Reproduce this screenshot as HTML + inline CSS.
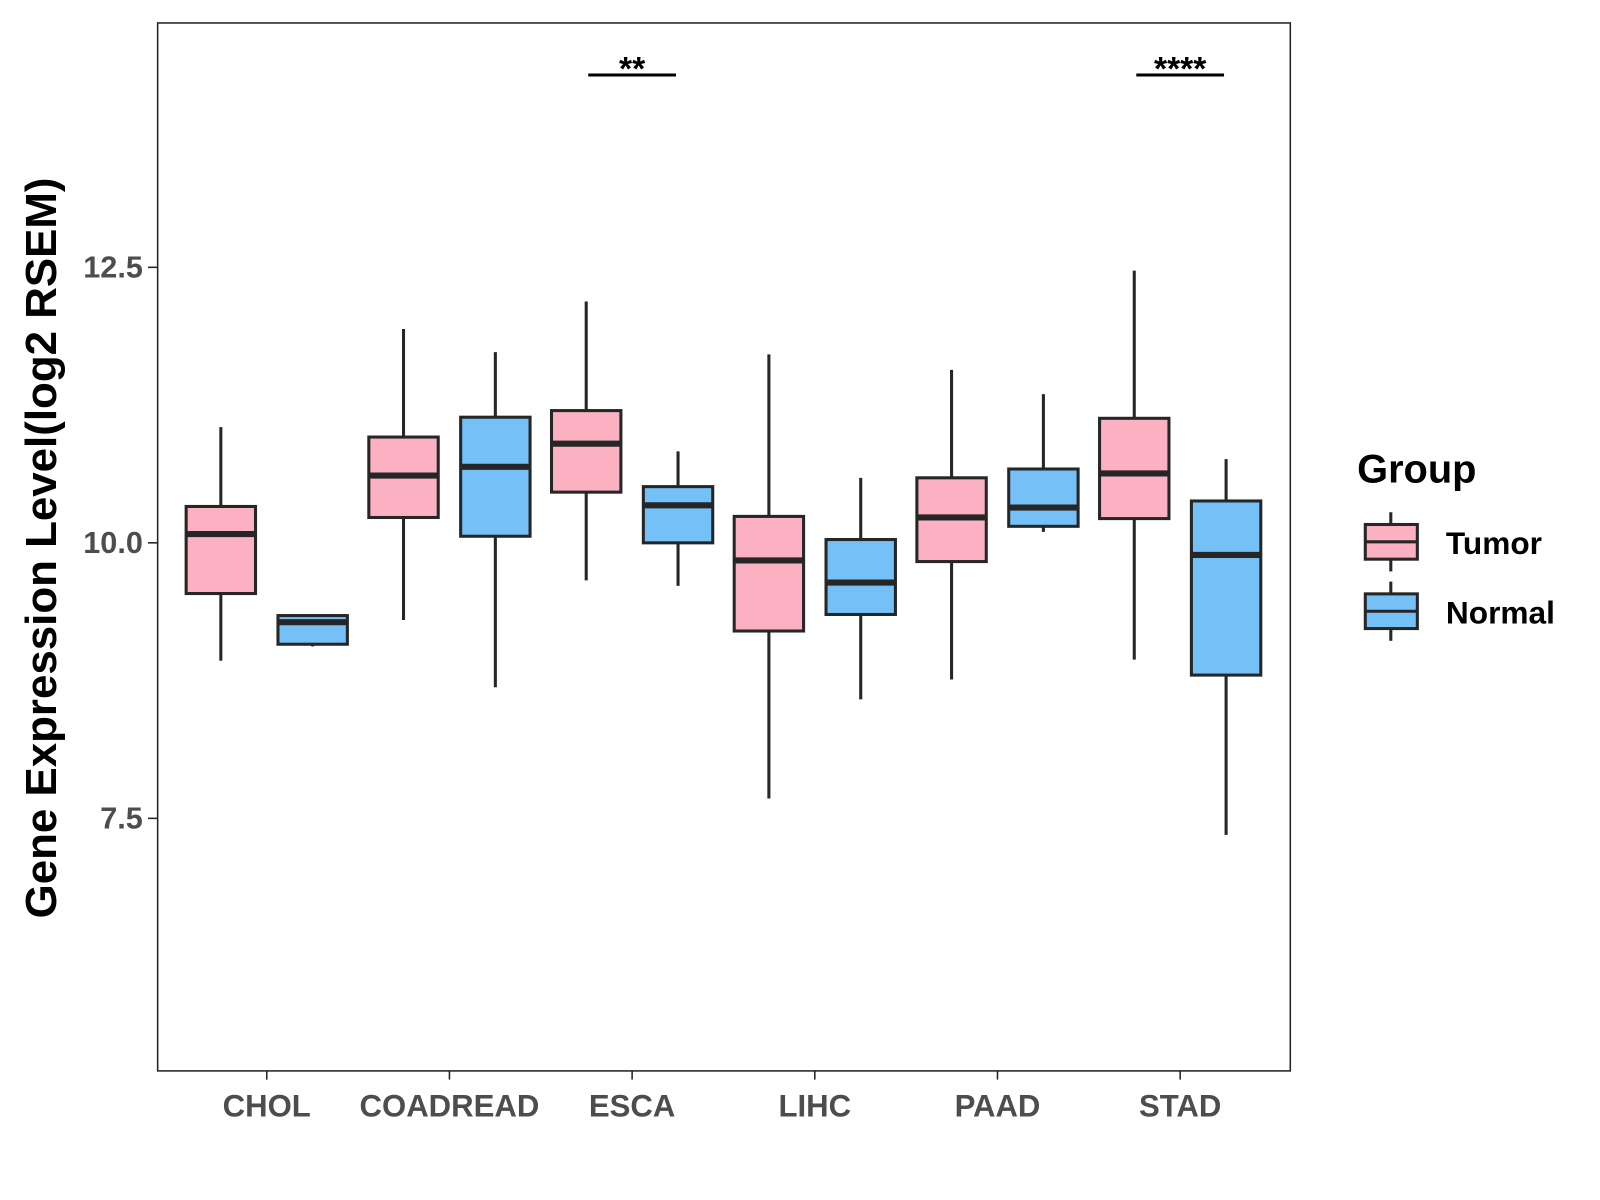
<!DOCTYPE html>
<html><head><meta charset="utf-8"><style>
body{margin:0;background:#fff}
svg{display:block;font-family:"Liberation Sans",Arial,sans-serif}
</style></head><body>
<svg id="chart" width="1600" height="1200">
<rect x="0" y="0" width="1600" height="1200" fill="#fff"/>
<g transform="scale(1.0204)">
<g id="plot"></g>
<rect x="154.5" y="22.5" width="1110" height="1027" fill="none" stroke="#222" stroke-width="1.5"/>
<text transform="translate(55,537) rotate(-90)" text-anchor="middle" font-size="43" font-weight="bold" fill="#000">Gene Expression Level(log2 RSEM)</text>
<g>
<text x="1330" y="473" font-size="39" font-weight="bold">Group</text>
<g>
<line x1="1363" y1="502" x2="1363" y2="560" stroke="#262626" stroke-width="3"/>
<rect x="1338" y="514" width="51" height="34" fill="#FBB1C1" stroke="#262626" stroke-width="3"/>
<line x1="1338" y1="531" x2="1389" y2="531" stroke="#262626" stroke-width="3"/>
<text x="1417" y="543" font-size="31" font-weight="bold">Tumor</text>
</g>
<g>
<line x1="1363" y1="570" x2="1363" y2="628" stroke="#262626" stroke-width="3"/>
<rect x="1338" y="582" width="51" height="34" fill="#75C1F7" stroke="#262626" stroke-width="3"/>
<line x1="1338" y1="599" x2="1389" y2="599" stroke="#262626" stroke-width="3"/>
<text x="1417" y="611" font-size="31" font-weight="bold">Normal</text>
</g>
</g>
</g>
</svg>
<script>
const categories=["CHOL","COADREAD","ESCA","LIHC","PAAD","STAD"];
const groups=["Tumor","Normal"];
// [lowWhisker, q1, median, q3, highWhisker]
const tumorStats=[[8.93,9.54,10.08,10.33,11.05],[9.30,10.23,10.61,10.96,11.94],[9.66,10.46,10.90,11.20,12.19],[7.68,9.20,9.84,10.24,11.71],[8.76,9.83,10.23,10.59,11.57],[8.94,10.22,10.63,11.13,12.47]];
const normalStats=[[9.06,9.08,9.28,9.34,9.34],[8.69,10.06,10.69,11.14,11.73],[9.61,10.00,10.34,10.51,10.83],[8.58,9.35,9.64,10.03,10.59],[10.10,10.15,10.32,10.67,11.35],[7.35,8.80,9.89,10.38,10.76]];
const yTicks=[7.5,10.0,12.5];
const yTickLabels=["7.5","10.0","12.5"];
const sigCategories=["ESCA","STAD"];
const sigLabels=["**","****"];
const sigLevel=14.245;

const yMin=5.213,yMax=14.722,pTop=22,pBottom=1049,pLeft=154,pRight=1264;
const yS=v=>pBottom-(v-yMin)/(yMax-yMin)*(pBottom-pTop);
const stepX=(pRight-pLeft)/(categories.length+0.2);
const xS=i=>pLeft+stepX*(0.6+i);
const off=45,bw=68;
const NS="http://www.w3.org/2000/svg";
const plotG=document.getElementById('plot');
function mk(t,a,p){const e=document.createElementNS(NS,t);for(const k in a)e.setAttribute(k,a[k]);(p||plotG).appendChild(e);return e;}
const colors=["#FBB1C1","#75C1F7"];
[tumorStats,normalStats].forEach((S,gi)=>{
 S.forEach((s,i)=>{
  const cx=xS(i)+(gi?off:-off);
  const bg=mk('g',{});
  
  
  mk('line',{x1:cx,x2:cx,y1:yS(s[4]),y2:yS(s[0]),stroke:'#262626','stroke-width':3},bg);
  mk('rect',{x:cx-bw/2,y:yS(s[3]),width:bw,height:yS(s[1])-yS(s[3]),fill:colors[gi],stroke:'#262626','stroke-width':3},bg);
  mk('line',{x1:cx-bw/2,x2:cx+bw/2,y1:yS(s[2]),y2:yS(s[2]),stroke:'#262626','stroke-width':6},bg);
 });
});
categories.forEach((c,i)=>{
 const t=mk('line',{x1:xS(i),x2:xS(i),y1:pBottom,y2:pBottom+9,stroke:'#222','stroke-width':1.5});
 
 
 const l=mk('text',{x:xS(i),y:pBottom+45,'text-anchor':'middle','font-size':30.5,'font-weight':'bold',fill:'#4d4d4d'});
 l.textContent=c;
 
 
});
yTicks.forEach((v,i)=>{
 const t=mk('line',{x1:pLeft-9,x2:pLeft,y1:yS(v),y2:yS(v),stroke:'#222','stroke-width':1.5});
 
 
 const l=mk('text',{x:pLeft-14,y:yS(v)+10,'text-anchor':'end','font-size':30,'font-weight':'bold',fill:'#4d4d4d'});
 l.textContent=yTickLabels[i];
 
 
});
sigCategories.forEach((c,k)=>{
 const i=categories.indexOf(c);
 const ln=mk('line',{x1:xS(i)-off+2,x2:xS(i)+off-2,y1:yS(sigLevel),y2:yS(sigLevel),stroke:'#000','stroke-width':3});
 
 
 const t=mk('text',{x:xS(i),y:yS(sigLevel)+5,'text-anchor':'middle','font-size':33,'font-weight':'bold',fill:'#000'});
 t.textContent=sigLabels[k];
 
 
});
</script>
</body></html>
